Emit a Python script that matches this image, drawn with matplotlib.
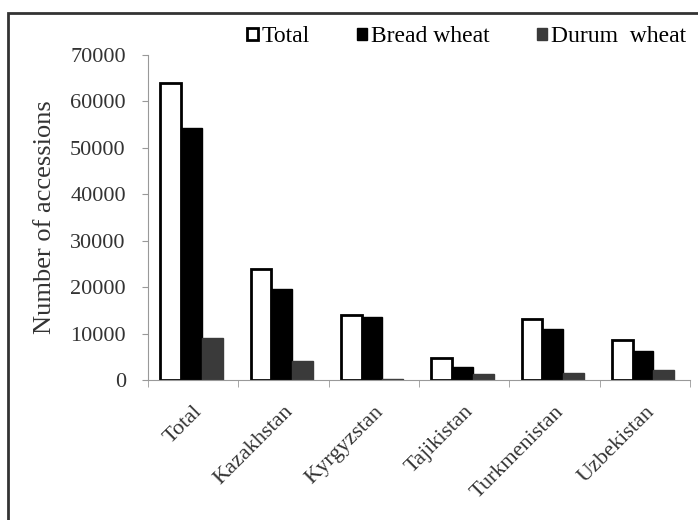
import numpy as np
import matplotlib
matplotlib.use('Agg')
import matplotlib.pyplot as plt
from matplotlib.patches import Rectangle


# データ
categories = ['Total', 'Kazakhstan', 'Kyrgyzstan', 'Tajikistan', 'Turkmenistan', 'Uzbekistan']
total = [64000, 24000, 13900, 4700, 13200, 8700]
bread_wheat = [54200, 19700, 13500, 2800, 11000, 6300]
durum_wheat = [9000, 4000, 300, 1200, 1500, 2100]
y_ticks = [0, 10000, 20000, 30000, 40000, 50000, 60000, 70000]


def main():
    plt.rcParams['font.family'] = ['Liberation Serif', 'DejaVu Serif']

    fig = plt.figure(figsize=(6.98, 5.2), dpi=100)
    ax = fig.add_axes([148 / 698, 0.2692, 0.7765, 0.625])

    x = np.arange(len(categories))
    w = 0.23
    shift = -0.02

    ax.bar(x - w + shift, total, w, color='white', edgecolor='black', linewidth=2, label='Total')
    ax.bar(x + shift, bread_wheat, w, color='black', edgecolor='black', linewidth=1, label='Bread wheat')
    ax.bar(x + w + shift, durum_wheat, w, color='#3a3a3a', edgecolor='#3a3a3a', linewidth=1, label='Durum  wheat')

    ax.set_xlim(-0.5, len(categories) - 0.5)
    ax.set_ylim(0, 70000)
    ax.set_yticks(y_ticks)
    ax.set_yticklabels([str(v) for v in y_ticks], fontsize=16, color='#333333')

    ax.set_xticks(x)
    ax.set_xticklabels(categories, rotation=45, ha='right', va='top',
                       rotation_mode='anchor', fontsize=16, color='#333333')
    ax.tick_params(axis='x', which='major', length=0, pad=16)
    ax.set_xticks(np.arange(-0.5, len(categories), 1.0), minor=True)
    ax.tick_params(axis='x', which='minor', length=5, color='#999999')
    ax.tick_params(axis='y', length=4, pad=12, color='#999999')

    ax.spines['top'].set_visible(False)
    ax.spines['right'].set_visible(False)
    ax.spines['left'].set_color('#999999')
    ax.spines['bottom'].set_color('#999999')

    ax.set_ylabel('Number of accessions', fontsize=19, color='#333333', labelpad=10)

    fig.legend(loc='center left', bbox_to_anchor=(247 / 698, 1 - 37 / 520), ncol=3,
               frameon=False, fontsize=17, handlelength=0.45, handleheight=0.45,
               handletextpad=0.15, columnspacing=2.0, borderaxespad=0, borderpad=0)

    # 外枠
    fig.patches.append(Rectangle((8 / 698, -0.1), 1.0, 1.1 - 13 / 520, fill=False,
                                 edgecolor='#333333', linewidth=2,
                                 transform=fig.transFigure, figure=fig))

    fig.savefig('out.png', dpi=100)


if __name__ == "__main__":
    main()
